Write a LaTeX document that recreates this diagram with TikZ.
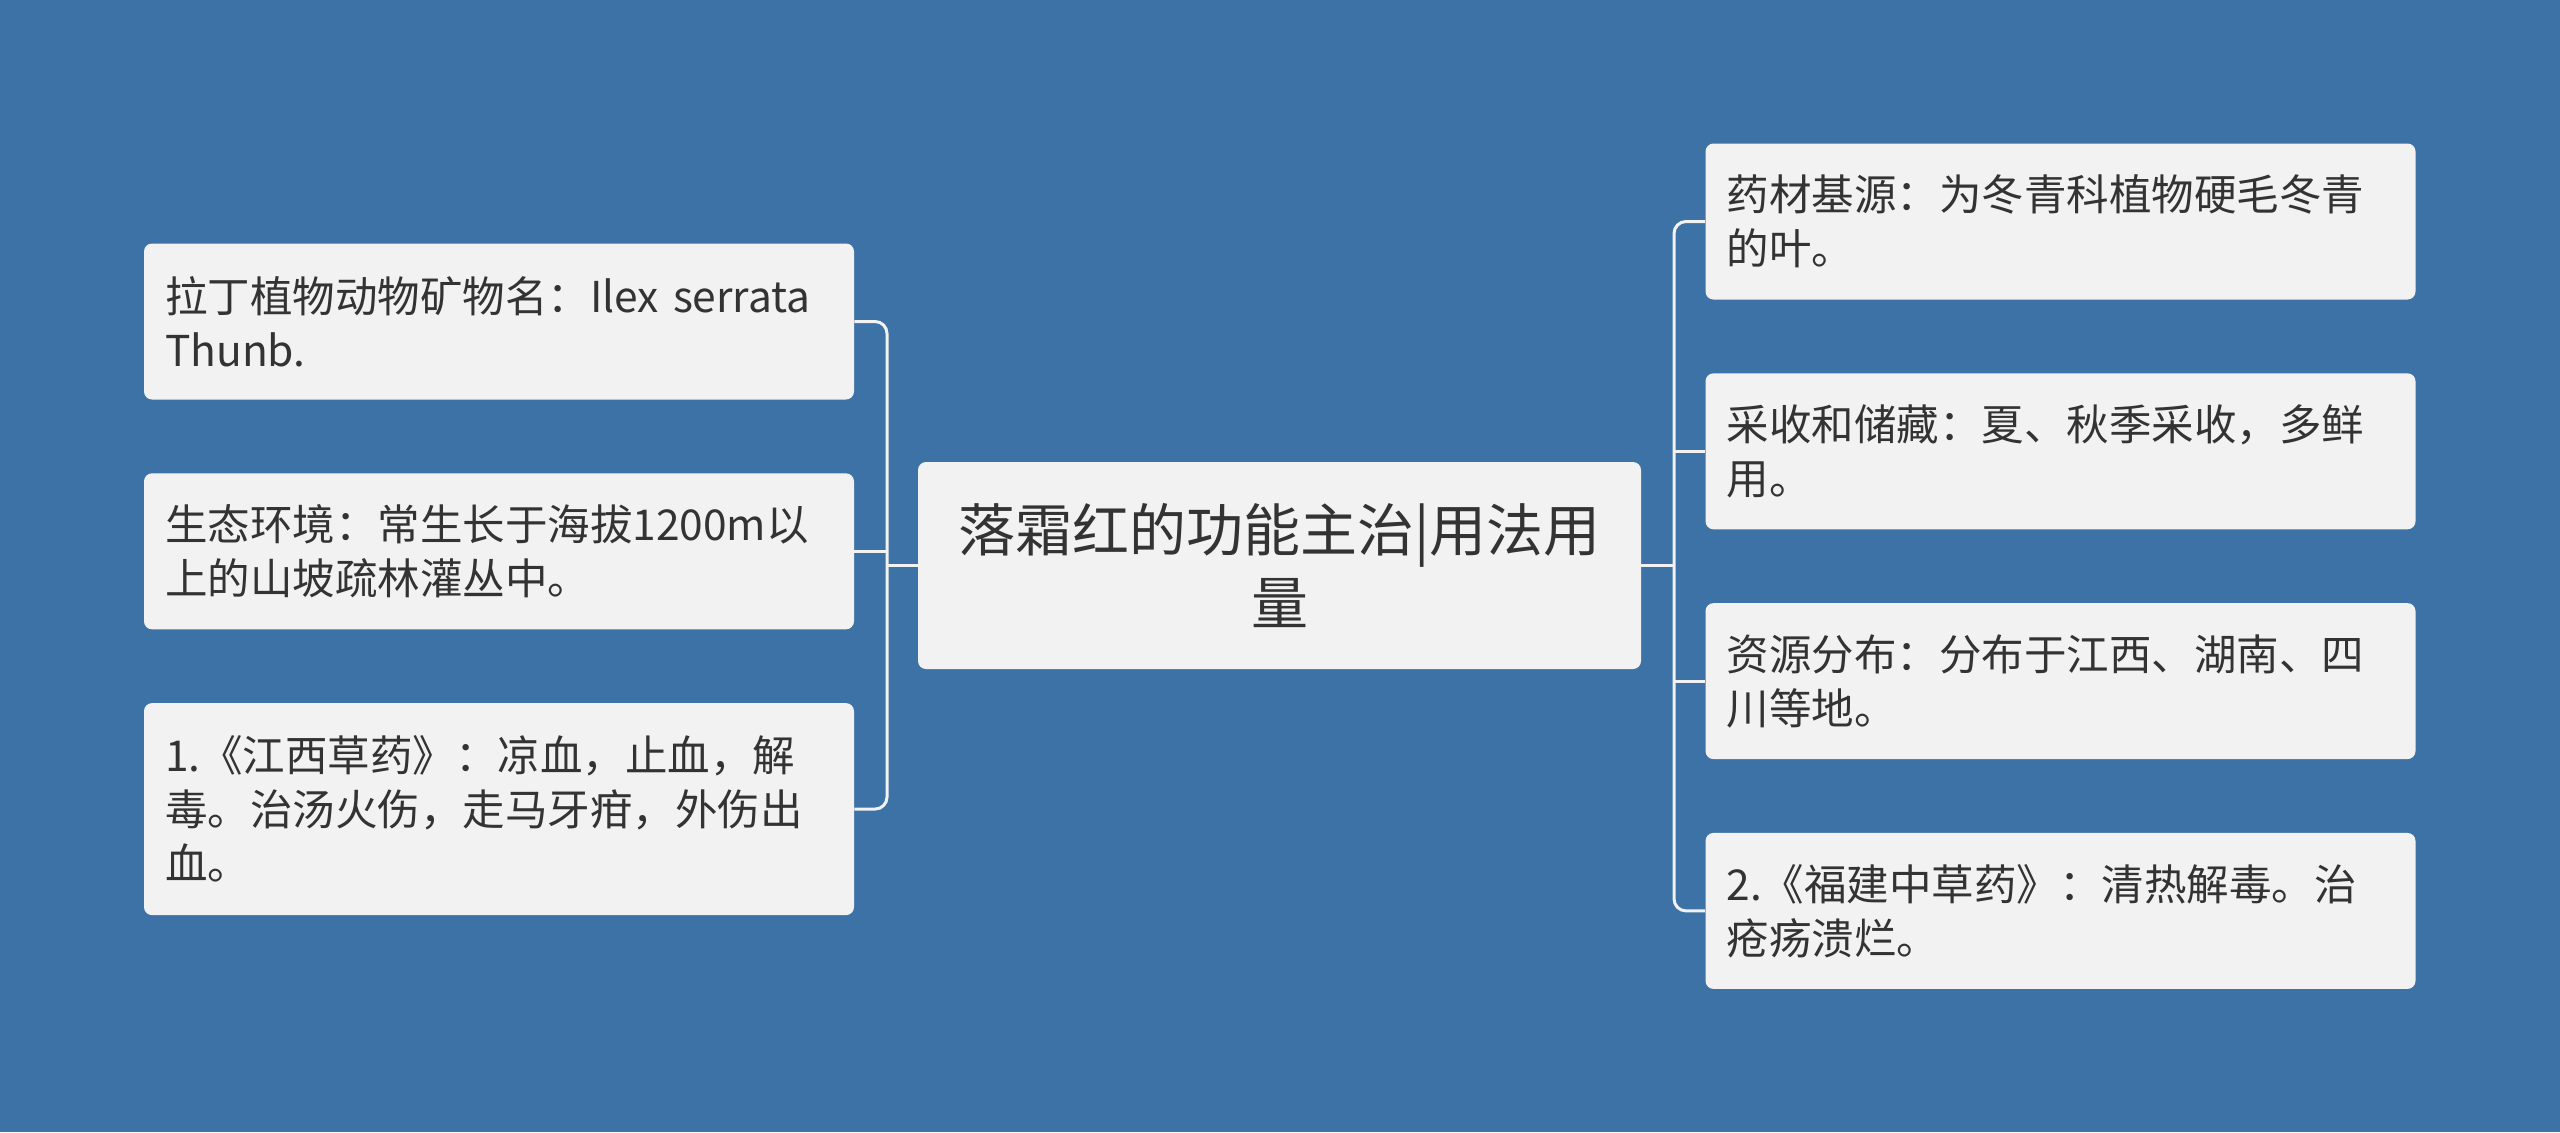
\documentclass[tikz,border=0pt]{standalone}
\usepackage{fontspec}
\setmainfont{Noto Sans CJK SC}
\usetikzlibrary{positioning}
\definecolor{mapblue}{HTML}{3D72A6}
\definecolor{cardgray}{HTML}{F2F2F2}
\definecolor{inkgray}{HTML}{333333}

\begin{document}
\begin{tikzpicture}[
  x=0.5pt, y=-0.5pt,
  node distance=36.5pt,
  card/.style={rectangle, fill=cardgray, rounded corners=4pt, align=left, text=inkgray, font=\fontsize{21.25}{27}\selectfont, text width=334pt, inner xsep=10.5pt, inner ysep=0pt, minimum height=78pt},
  rootcard/.style={rectangle, fill=cardgray, rounded corners=4pt, align=center, text=inkgray, font=\fontsize{28.5}{36.5}\selectfont, text width=340pt, inner xsep=10.75pt, inner ysep=0pt, minimum height=103.5pt},
  link/.style={draw=cardgray, line width=1.5pt, rounded corners=6pt}
]
  \useasboundingbox (0,0) rectangle (2560,1132);
  \fill[mapblue] (0,0) rectangle (2560,1132);

  \node[rootcard] (root) at (1279.5,565.5) {落霜红的功能主治|用法用\\量};

  % left branch
  \node[card] (latin) at (499,321.5) {拉丁植物动物矿物名：Ilex serrata\\Thunb.};
  \node[card, below=of latin] (habitat) {生态环境：常生长于海拔1200m以\\上的山坡疏林灌丛中。};
  \node[card, below=of habitat, minimum height=106pt] (jiangxi) {1.《江西草药》：凉血，止血，解\\毒。治汤火伤，走马牙疳，外伤出\\血。};

  % right branch
  \node[card] (origin) at (2060.5,221.5) {药材基源：为冬青科植物硬毛冬青\\的叶。};
  \node[card, below=of origin] (harvest) {采收和储藏：夏、秋季采收，多鲜\\用。};
  \node[card, below=of harvest] (spread) {资源分布：分布于江西、湖南、四\\川等地。};
  \node[card, below=of spread] (fujian) {2.《福建中草药》：清热解毒。治\\疮疡溃烂。};

  \coordinate (lbar) at (887,565.5);
  \coordinate (rbar) at (1674,565.5);

  \draw[link] (latin.east) -| (lbar) |- (jiangxi.east);
  \draw[link] (habitat.east) -- (habitat.east -| lbar);
  \draw[link] (root.west) -- (lbar);

  \draw[link] (origin.west) -| (rbar) |- (fujian.west);
  \draw[link] (harvest.west) -- (harvest.west -| rbar);
  \draw[link] (spread.west) -- (spread.west -| rbar);
  \draw[link] (root.east) -- (rbar);
\end{tikzpicture}
\end{document}
